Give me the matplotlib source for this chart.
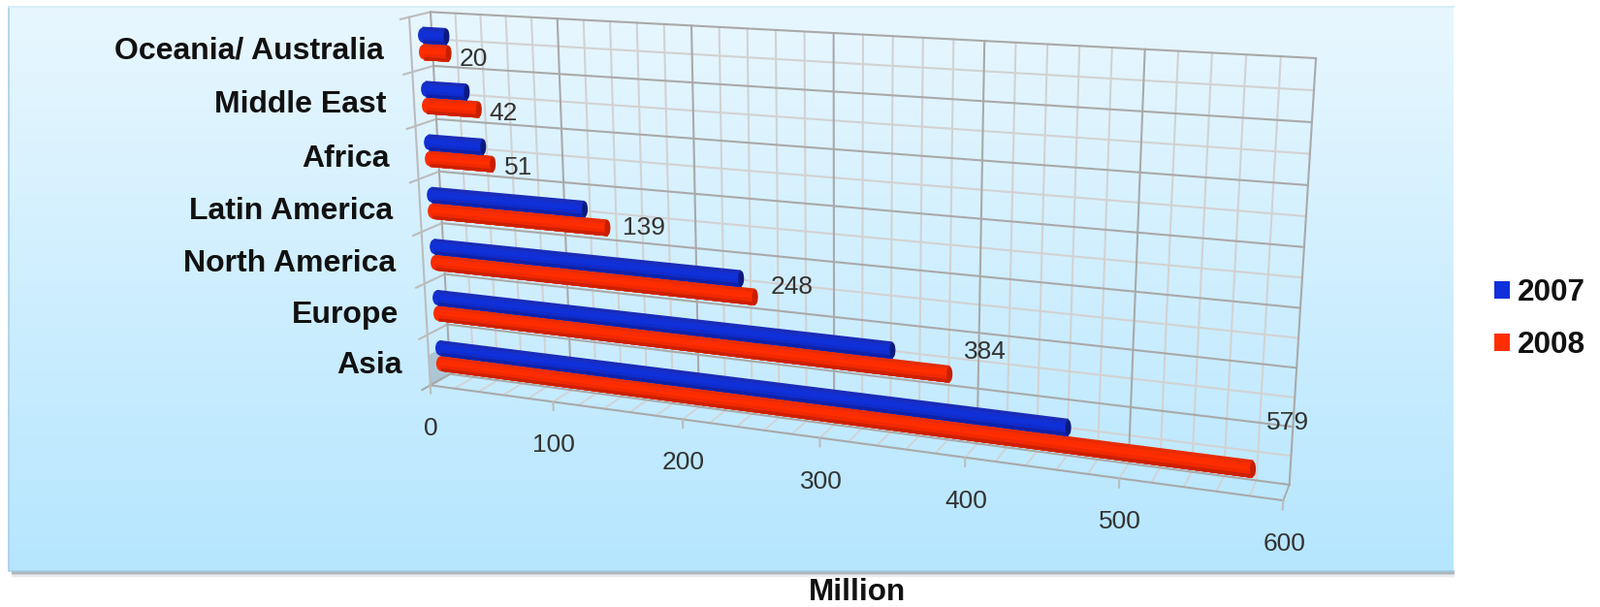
import numpy as np
import matplotlib

matplotlib.use("Agg")
import matplotlib.pyplot as plt
from matplotlib.patches import Ellipse, Patch, Polygon
from matplotlib.transforms import Transform

plt.rcParams["font.family"] = ["Liberation Sans", "DejaVu Sans"]

# bottom to top, same order as the chart's category axis
categories = ["Asia", "Europe", "North America", "Latin America", "Africa", "Middle East", "Oceania/ Australia"]
users_2007 = [463, 345, 238, 122, 44, 33, 19]
users_2008 = [579, 384, 248, 139, 51, 42, 20]
value_ticks = [0, 100, 200, 300, 400, 500, 600]
series_names = ["2007", "2008"]

# where the 3D box corners landed in the picture: (value, category, depth) -> pixel
# depth 0 is the back wall, depth 1 the front edge of the floor
BOX_CORNERS = [
    ((0, 0, 0), (463, 385)),
    ((600, 0, 0), (1330, 500)),
    ((600, 7, 0), (1357, 60)),
    ((0, 7, 0), (445, 13)),
    ((0, 0, 1), (445, 398)),
    ((600, 0, 1), (1323, 516)),
    ((0, 7, 1), (421, 17)),
]
BAR_DEPTH = 0.42
BAR_SHIFT = -0.04
LABEL_OFFSETS = [(36, -49), (37, -25), (38, -12), (37, -2), (26, 2), (25, 2), (26, 4)]

MAJOR_GRID = "#a9a9a9"
SIDE_GRID = "#bcbcbc"
MINOR_GRID = "#d2d2d2"
BLUE_SHADES = ["#1a2cb8", "#1230d2", "#1030dc", "#0f2ccc", "#0e22a8"]
RED_SHADES = ["#e62c04", "#fb2c00", "#ff2e00", "#f22800", "#cc2000"]
BLUE_CAP = "#0c1a80"
RED_CAP = "#c81e00"


def fit_camera(corners):
    rows, rhs = [], []
    for (u, v, d), (px, py) in corners:
        rows.append([u, v, d, 1, 0, 0, 0, 0, -px * u, -px * v, -px * d])
        rhs.append(px)
        rows.append([0, 0, 0, 0, u, v, d, 1, -py * u, -py * v, -py * d])
        rhs.append(py)
    rows = np.array(rows, dtype=float)
    scale = np.array([600, 7, 1, 1, 600, 7, 1, 1, 600 * 1000, 7 * 1000, 1000], dtype=float)
    sol = np.linalg.lstsq(rows * scale, np.array(rhs, dtype=float), rcond=None)[0] * scale
    return np.append(sol, 1.0).reshape(3, 4)


class BoxPlane(Transform):
    """One plane of the 3D box: two free axes out of (value, category, depth)."""

    input_dims = 2
    output_dims = 2
    is_separable = False
    has_inverse = False

    def __init__(self, camera, free, fixed):
        super().__init__()
        self.camera = camera
        self.free = free
        self.fixed = fixed

    def transform_non_affine(self, values):
        values = np.asarray(values, dtype=float)
        world = np.ones((len(values), 4))
        for axis, val in self.fixed.items():
            world[:, axis] = val
        world[:, self.free[0]] = values[:, 0]
        world[:, self.free[1]] = values[:, 1]
        out = world @ self.camera.T
        return out[:, :2] / out[:, 2:]


fig = plt.figure(figsize=(16.5, 6.26), dpi=100)
ax = fig.add_axes([0, 0, 1, 1])
ax.set_xlim(0, 1650)
ax.set_ylim(626, 0)
ax.set_autoscale_on(False)
ax.axis("off")

# panel background with its soft shadow
for i, alpha in enumerate([0.55, 0.35, 0.2, 0.1, 0.05]):
    ax.fill_between([12, 1500], 589, 590 + i * 1.6, color="#6f7f8c", alpha=alpha, lw=0, zorder=0)
gradient = np.linspace(0, 1, 256)[:, None, None] * (np.array([181, 230, 254]) - np.array([232, 247, 255])) + np.array([232, 247, 255])
ax.imshow(gradient / 255, extent=(9, 1499, 589, 7), aspect="auto", zorder=1)
ax.set_xlim(0, 1650)
ax.set_ylim(626, 0)
ax.plot([9, 9, 1499], [7, 589, 589], color="#a6cfe8", lw=1.2, zorder=1.5)
ax.plot([9, 1499], [7, 7], color="#d3ecfa", lw=1.2, zorder=1.5)

camera = fit_camera(BOX_CORNERS)
back_wall = BoxPlane(camera, (0, 1), {2: 0.0}) + ax.transData
front_plane = BoxPlane(camera, (0, 1), {2: 1.0}) + ax.transData
bar_plane = BoxPlane(camera, (0, 1), {2: BAR_DEPTH}) + ax.transData
floor = BoxPlane(camera, (0, 2), {1: 0.0}) + ax.transData
side_wall = BoxPlane(camera, (2, 1), {0: 0.0}) + ax.transData

n_cat = len(categories)
top = float(n_cat)

# shaded corner of the side wall, only visible under the Asia bar
ax.add_patch(Polygon([(0, 0), (1, 0), (1, 0.6), (0, 0.6)], closed=True, transform=side_wall,
                     facecolor="#adc6d6", edgecolor="none", zorder=2))

# back wall grid
for val in np.arange(0, 601, 20):
    major = val % 100 == 0
    ax.plot([val, val], [0, top], transform=back_wall, lw=1.5,
            color=MAJOR_GRID if major else MINOR_GRID, zorder=2.5 if major else 2)
    ax.plot([val, val], [0, 1], transform=floor, lw=1.3,
            color=MAJOR_GRID if major and val in (0, 600) else MINOR_GRID, zorder=2)
for i in range(n_cat):
    ax.plot([0, 600], [i + 0.5, i + 0.5], transform=back_wall, lw=1.5, color=MINOR_GRID, zorder=2)
for i in range(n_cat + 1):
    ax.plot([0, 600], [i, i], transform=back_wall, lw=1.5, color=MAJOR_GRID, zorder=2.5)
    ax.plot([0, 1.4], [i, i], transform=side_wall, lw=1.5, color=SIDE_GRID if i else MAJOR_GRID, zorder=2.4)

# box edges
ax.plot([1, 1], [0, top], transform=side_wall, lw=1.5, color=SIDE_GRID, zorder=2.4)
ax.plot([0, 600], [1, 1], transform=floor, lw=1.5, color=MAJOR_GRID, zorder=2.5)
for val in value_ticks:
    ax.plot([val, val], [0, -0.16], transform=front_plane, lw=1.5, color=SIDE_GRID, zorder=2.5)

# bars, each shade painted over the previous one down to the bar's lower edge
to_pixels = bar_plane + ax.transData.inverted()
for i in range(n_cat):
    for values, sign, shades, cap in (
        (users_2007, 1, BLUE_SHADES, BLUE_CAP),
        (users_2008, -1, RED_SHADES, RED_CAP),
    ):
        center = i + 0.5 + BAR_SHIFT + sign * 0.155
        height = 0.31
        n = len(shades)
        lower = center - height / 2
        tip_x, tip_y = to_pixels.transform([(values[i], center)])[0]
        base_x, base_y = to_pixels.transform([(0, center)])[0]
        ax.add_patch(Ellipse((base_x, base_y), 10, 15.5, facecolor=shades[1], edgecolor="none", zorder=3))
        for k, shade in enumerate(shades):
            strip = height * (1 - k / n)
            ax.barh(lower + strip / 2, values[i], height=strip, left=0, color=shade, linewidth=0,
                    transform=bar_plane, zorder=3.2 + k * 0.01)
        ax.add_patch(Ellipse((tip_x, tip_y), 6, 16, facecolor=cap, edgecolor="none", zorder=3.4))

# text
for i, name in enumerate(categories):
    ax.annotate(name, xy=(0, i + 0.5), xycoords=front_plane, xytext=(-28, -6), textcoords="offset pixels",
                ha="right", va="center", fontsize=23, fontweight="bold", color="#111111", zorder=5)
    dx, dy = LABEL_OFFSETS[i]
    ax.annotate(str(users_2008[i]), xy=(users_2008[i], i + 0.5 - 0.07 - 0.155), xycoords=bar_plane,
                xytext=(dx, -dy), textcoords="offset pixels", ha="center", va="center",
                fontsize=19, color="#333333", zorder=5)

for val in value_ticks:
    ax.annotate(str(val), xy=(val, 0), xycoords=front_plane, xytext=(1, -45), textcoords="offset pixels",
                ha="center", va="center", fontsize=19, color="#333333", zorder=5)

ax.text(884, 611, "Million", ha="center", va="center", fontsize=22.7, fontweight="bold", color="#111111")

handles = [Patch(facecolor=BLUE_SHADES[2], label=series_names[0]), Patch(facecolor=RED_SHADES[2], label=series_names[1])]
leg = ax.legend(handles=handles, loc="center left", bbox_to_anchor=(1541, 329), bbox_transform=ax.transData,
                frameon=False, fontsize=22.7, handlelength=0.5, handleheight=0.5, handletextpad=0.25,
                labelspacing=0.75, borderpad=0, borderaxespad=0)
for label in leg.get_texts():
    label.set_fontweight("bold")
    label.set_color("#111111")

fig.savefig("out.png", dpi=100)
